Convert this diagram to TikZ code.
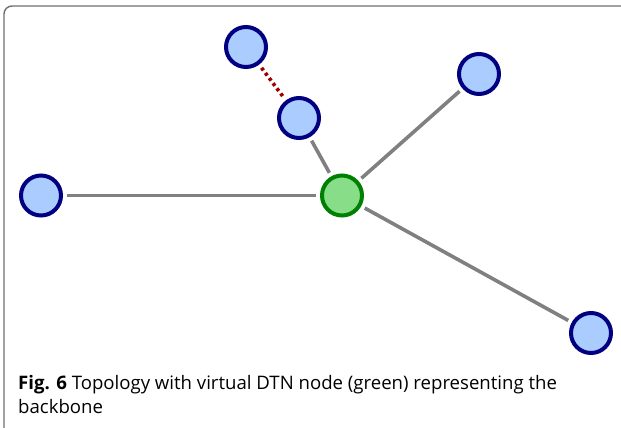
\documentclass[tikz,border=0pt]{standalone}
\usepackage{fontspec}
\setmainfont{Open Sans}
\definecolor{nodeblue}{RGB}{170,204,255}
\definecolor{navy}{RGB}{0,0,128}
\definecolor{ngreen}{RGB}{136,221,136}
\definecolor{dgreen}{RGB}{0,128,0}
\definecolor{edgegray}{RGB}{128,128,128}
\definecolor{dred}{RGB}{160,0,0}
\definecolor{framegray}{RGB}{110,110,110}
\tikzset{
  peer/.style={circle, draw=navy, fill=nodeblue, line width=4pt, minimum size=40pt, inner sep=0pt},
  dtn/.style={circle, draw=dgreen, fill=ngreen, line width=4pt, minimum size=40pt, inner sep=0pt},
  link/.style={draw=edgegray, line width=3.6pt, shorten <=4pt, shorten >=4pt},
  dotlink/.style={draw=dred, line width=3.6pt, dash pattern=on 3.2pt off 3.2pt, shorten <=4pt, shorten >=4pt},
}
\begin{document}
\begin{tikzpicture}[x=1pt,y=-1pt]
\useasboundingbox (0,0) rectangle (621,428);
\draw[framegray, line width=1.4pt, rounded corners=8pt] (4,440) -- (4,6) -- (630,6);
\node[peer] (tl) at (246,47) {};
\node[peer] (mid) at (299,118) {};
\node[peer] (tr) at (479,74) {};
\node[peer] (lf) at (41,195.5) {};
\node[dtn] (c) at (342,195.5) {};
\node[peer] (br) at (591,333) {};
\draw[link] (c) -- (lf);
\draw[link] (c) -- (mid);
\draw[link] (c) -- (tr);
\draw[link] (c) -- (br);
\draw[dotlink] (tl) -- (mid);
\node[anchor=base west, align=left, inner sep=0pt, font=\fontsize{18.6}{24}\selectfont] (cap) at (18,413)
  {\textbf{Fig. 6} Topology with virtual DTN node (green) representing the\\backbone};
\end{tikzpicture}
\end{document}
